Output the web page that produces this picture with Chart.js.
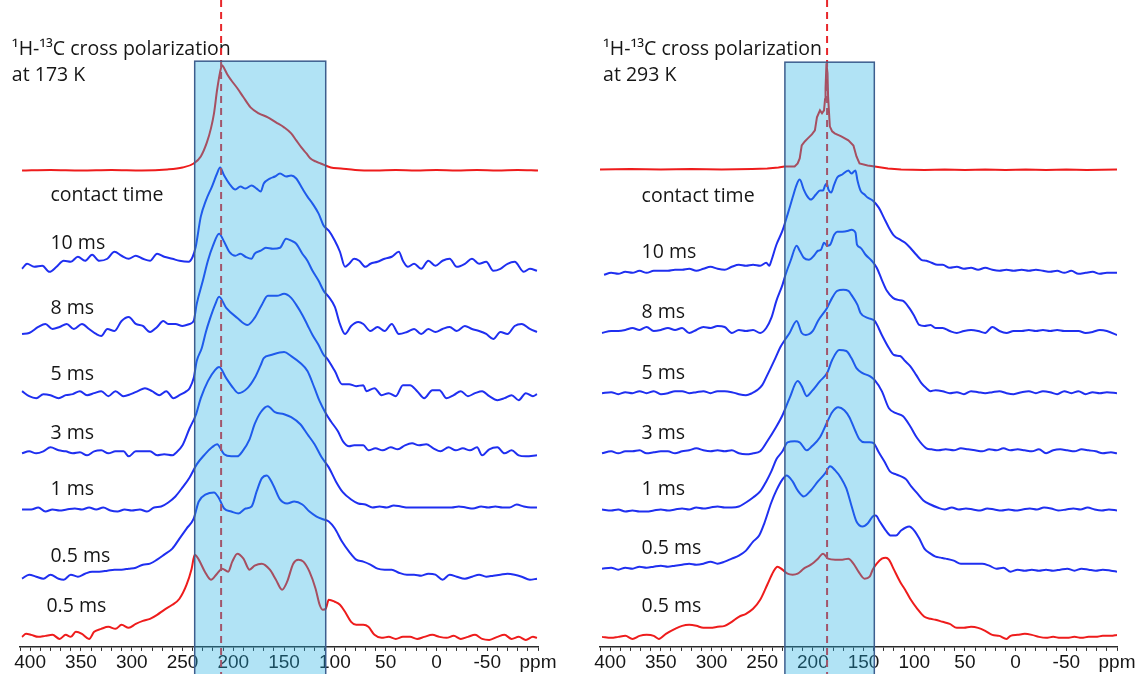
<!DOCTYPE html>
<html>
<head>
<meta charset="utf-8">
<script src="https://cdn.jsdelivr.net/npm/chart.js@4.4.1/dist/chart.umd.min.js"></script>
<style>
  html, body { margin: 0; padding: 0; background: #fff; }
  #wrap { position: relative; width: 1142px; height: 674px; }
  .panel { position: absolute; top: 0; width: 571px; height: 674px; }
  #left { left: 0; }
  #right { left: 571px; }
</style>
</head>
<body>
<div id="wrap">
  <div class="panel" id="left"><canvas id="chart173"></canvas></div>
  <div class="panel" id="right"><canvas id="chart293"></canvas></div>
</div>
<script>
// 13C CP spectra, [ppm, intensity] pairs, intensity above each trace's own baseline
var contactTimes = ['10 ms', '8 ms', '5 ms', '3 ms', '1 ms', '0.5 ms'];
var bottomLabel = '0.5 ms';

// ---- 173 K ----
var t173Top = [[408,0],[380,0.5],[350,0],[320,0.5],[290,0],[265,1],[250,3],[239,7],[232,14],[226,28],[222,42],[219,57],[216,80],[213,98],[211,105],[209,102],[206,96],[202,90],[196,82],[190,73],[183,63],[175,57],[166,53],[158,48],[150,43],[143,37],[138,30],[133,23],[128,17],[124,12],[119,9],[114,7],[104,3],[94,2],[80,0.5],[60,0],[40,0.5],[20,0],[0,0.5],[-20,0],[-40,0.5],[-60,0],[-80,0.5],[-100,0]];
var t173_10 = [[408,-5],[403,0],[396,-3],[388,-2],[381,-8],[374,-3],[367,3],[360,2],[353,7],[346,3],[339,9],[332,3],[324,5],[317,12],[310,8],[303,5],[296,8],[289,5],[282,3],[275,10],[268,7],[260,5],[253,3],[244,2],[240,7],[237,17],[232,47],[227,63],[221,77],[216,90],[213,96],[209,88],[204,80],[198,74],[193,77],[188,75],[182,78],[177,75],[173,72],[170,80],[164,85],[159,87],[154,90],[148,87],[143,88],[138,85],[132,75],[127,67],[122,60],[116,50],[111,38],[106,33],[100,23],[95,12],[90,-3],[86,0],[81,5],[76,3],[70,-3],[65,0],[58,2],[51,5],[44,7],[37,12],[33,3],[28,-3],[22,0],[15,-5],[8,3],[1,-2],[-6,3],[-13,5],[-20,-3],[-28,0],[-35,5],[-42,0],[-49,2],[-56,-7],[-63,-5],[-70,0],[-77,2],[-86,-8],[-92,-5],[-99,-7]];
var t173_8 = [[408,-5],[401,-4],[392,2],[385,5],[378,0],[371,2],[364,5],[357,0],[349,5],[342,0],[335,-5],[330,-7],[324,0],[317,-2],[310,8],[303,12],[296,5],[289,3],[282,-3],[275,2],[269,8],[264,5],[257,5],[250,3],[243,5],[239,8],[236,25],[230,48],[225,68],[220,83],[214,95],[209,87],[204,77],[198,73],[193,75],[188,72],[182,70],[179,75],[173,78],[168,81],[161,80],[154,81],[148,90],[143,88],[138,85],[132,75],[127,68],[122,58],[116,48],[111,38],[106,32],[100,22],[95,5],[90,-5],[84,3],[77,7],[72,5],[65,-2],[58,2],[51,-2],[44,5],[37,-5],[29,-3],[22,0],[15,-5],[8,0],[1,-3],[-6,0],[-13,2],[-20,-2],[-28,3],[-35,0],[-42,-2],[-49,-5],[-56,-10],[-63,-3],[-70,-5],[-77,3],[-84,5],[-92,0],[-99,-3]];
var t173_5 = [[408,3],[401,-2],[394,-4],[387,0],[380,-1],[372,-4],[365,-1],[358,0],[351,3],[344,-1],[337,1],[330,3],[323,-2],[316,3],[308,-2],[301,0],[294,3],[287,6],[280,3],[273,-1],[266,3],[259,-4],[253,-1],[246,3],[243,6],[239,16],[236,33],[231,46],[227,62],[223,75],[218,89],[214,97],[207,86],[196,76],[186,69],[179,76],[172,89],[166,98],[157,98],[150,100],[143,96],[138,89],[132,79],[127,69],[122,59],[116,49],[111,39],[108,36],[100,23],[93,10],[86,10],[79,8],[72,9],[69,3],[61,6],[54,-1],[47,1],[40,-2],[33,9],[26,9],[19,3],[12,-4],[4,4],[-3,4],[-10,-4],[-17,-1],[-24,3],[-31,-2],[-38,1],[-45,3],[-52,-2],[-60,-6],[-67,-4],[-74,-1],[-81,-6],[-88,1],[-95,-2],[-99,0]];
var t173_3 = [[408,0],[401,2],[394,0],[387,2],[380,6],[372,3],[365,2],[358,0],[351,1],[344,-2],[337,2],[330,3],[323,0],[316,2],[308,2],[303,-3],[296,2],[289,2],[282,2],[275,-2],[268,-1],[260,-2],[257,0],[250,8],[243,25],[237,38],[232,55],[225,72],[218,83],[214,86],[207,75],[200,65],[195,60],[186,65],[179,75],[173,88],[170,95],[163,98],[150,101],[143,97],[134,90],[127,82],[120,65],[115,52],[109,40],[104,32],[97,22],[92,12],[86,7],[81,8],[72,8],[67,3],[60,5],[53,3],[45,6],[38,4],[31,8],[24,10],[17,8],[10,9],[3,5],[-4,2],[-12,6],[-19,3],[-26,5],[-33,3],[-40,6],[-45,-2],[-52,4],[-60,6],[-67,0],[-74,3],[-81,-2],[-88,-3],[-99,-2]];
var t173_1 = [[408,0],[399,0],[392,2],[385,-2],[378,0],[371,-1],[364,0],[356,1],[349,0],[342,2],[335,0],[328,2],[321,-1],[314,-2],[307,0],[300,-1],[292,0],[285,-2],[278,2],[271,3],[264,7],[257,13],[250,22],[243,32],[236,45],[228,55],[221,62],[216,65],[209,55],[202,53],[196,53],[191,58],[184,70],[179,85],[173,97],[166,103],[159,97],[150,95],[143,92],[134,85],[127,75],[120,65],[113,52],[106,42],[99,28],[92,17],[84,10],[77,6],[70,5],[63,2],[56,3],[49,2],[42,4],[35,3],[28,2],[20,2],[13,2],[6,2],[-1,2],[-8,2],[-15,2],[-22,3],[-29,2],[-36,1],[-44,3],[-51,2],[-58,3],[-65,2],[-72,2],[-79,5],[-86,3],[-93,2],[-99,2]];
var t173_05 = [[408,-2],[401,2],[394,0],[387,-2],[380,2],[372,-2],[367,-3],[360,2],[353,0],[346,3],[339,5],[332,5],[324,6],[317,7],[310,7],[303,8],[296,9],[289,12],[282,13],[275,17],[268,22],[260,28],[253,38],[246,48],[239,58],[234,75],[227,82],[219,84],[214,78],[209,68],[202,65],[195,63],[188,68],[182,70],[177,85],[172,98],[167,101],[161,92],[154,77],[147,73],[140,75],[132,72],[125,65],[118,60],[111,57],[106,55],[100,48],[93,35],[86,25],[79,17],[72,15],[65,12],[58,8],[51,7],[44,7],[37,4],[29,2],[22,2],[15,1],[8,3],[1,2],[-6,-3],[-13,2],[-20,0],[-28,-2],[-35,0],[-42,2],[-49,0],[-56,1],[-63,2],[-70,3],[-77,2],[-84,0],[-92,-3],[-99,-2]];
var t173Bottom = [[408,0],[404,3],[399,2],[392,0],[385,1],[378,2],[371,-2],[365,2],[360,0],[355,5],[349,3],[342,-2],[337,5],[330,8],[323,10],[316,8],[310,12],[303,9],[296,13],[289,16],[282,18],[275,22],[268,27],[260,32],[253,38],[246,52],[241,68],[238,82],[234,77],[228,65],[222,57],[216,63],[211,68],[205,65],[201,75],[196,83],[190,78],[184,67],[179,71],[172,73],[164,67],[158,57],[152,47],[147,55],[141,73],[136,77],[131,75],[125,65],[119,48],[115,32],[112,27],[109,28],[106,37],[100,35],[95,32],[90,25],[84,15],[79,12],[72,12],[67,10],[61,2],[54,-1],[47,0],[40,-2],[33,0],[26,0],[19,-2],[12,0],[4,2],[-3,0],[-10,-1],[-17,1],[-24,-2],[-31,0],[-38,2],[-45,-2],[-52,-3],[-60,0],[-67,2],[-74,-2],[-81,0],[-88,-3],[-95,0],[-99,-1]];

// ---- 293 K ----
var t293Top = [[410,0],[380,0.5],[350,0],[320,0.5],[290,0],[260,0.5],[245,1],[234,2],[228,3],[218,3],[215,6],[213,11],[211,24],[208,28],[205,31],[201,35],[198,39],[196,52],[193,59],[191,56],[189,59],[188,70],[187.5,81],[186.6,106],[185.6,96],[185,73],[183.3,43],[181,38],[178.5,36],[172,33],[165,29],[160,24],[157,13],[154,6],[146,4],[139,3],[126,1],[113,0],[90,-0.5],[70,0],[50,-0.5],[30,0],[10,-0.5],[-10,0],[-30,-0.5],[-50,0],[-70,-0.5],[-100,0]];
var t293_10 = [[406,-2],[399,0],[392,-1],[385,1],[378,0],[371,2],[364,0],[357,2],[350,2],[343,2],[336,3],[329,3],[322,4],[315,2],[308,4],[301,6],[294,4],[287,3],[280,6],[273,8],[266,7],[259,8],[252,7],[246,10],[243,7],[241,12],[236,28],[230,42],[225,58],[220,75],[216,88],[213,93],[209,83],[206,77],[202,73],[197,78],[193,82],[190,82],[188,87],[186.4,89],[184.6,83],[182,80],[179,88],[176,95],[171,98],[165,102],[162,99],[158,102],[156,92],[153,82],[149,78],[146,75],[141,72],[135,65],[130,55],[125,45],[120,37],[114,33],[109,30],[104,25],[98,18],[93,13],[88,12],[83,10],[77,8],[72,8],[65,5],[58,6],[51,4],[44,5],[37,3],[30,5],[23,3],[16,2],[9,3],[2,2],[-6,3],[-13,2],[-20,3],[-27,2],[-34,1],[-41,2],[-48,0],[-55,2],[-62,-1],[-69,0],[-76,1],[-83,-1],[-90,0],[-100,0]];
var t293_8 = [[408,0],[399,2],[392,2],[385,3],[378,5],[371,3],[364,6],[357,2],[350,3],[343,5],[336,3],[329,5],[322,0],[315,3],[308,6],[301,5],[294,7],[287,6],[280,0],[273,3],[266,2],[259,3],[252,0],[246,5],[241,15],[236,32],[230,48],[227,58],[222,72],[216,87],[213,82],[209,75],[204,73],[199,77],[195,82],[192,83],[189,90],[186,87],[183,88],[179,98],[176,101],[171,101],[165,102],[162,103],[158,100],[156.5,88],[153,85],[148,78],[142,72],[137,65],[132,53],[127,42],[121,35],[116,33],[111,32],[105,25],[100,17],[95,8],[90,7],[84,8],[79,5],[72,5],[65,2],[58,0],[51,2],[44,3],[37,2],[30,0],[23,6],[16,2],[9,0],[2,2],[-6,2],[-13,3],[-20,2],[-27,3],[-34,2],[-41,3],[-48,2],[-55,2],[-62,2],[-69,0],[-76,1],[-83,3],[-90,2],[-100,-2]];
var t293_5 = [[408,0],[399,1],[392,-1],[385,1],[378,0],[371,2],[364,0],[357,2],[350,-1],[343,0],[336,2],[329,2],[322,0],[315,1],[308,2],[301,0],[294,2],[287,2],[280,1],[273,-1],[266,-2],[260,0],[255,3],[250,8],[245,18],[237,35],[232,46],[227,54],[223,60],[216,72],[211,60],[207,58],[200,62],[195,72],[186,85],[181,95],[176,102],[170,103],[165,102],[162,98],[156,88],[153,80],[146,75],[139,72],[132,58],[125,45],[120,38],[114,37],[109,32],[104,27],[98,18],[93,10],[88,5],[84,2],[79,3],[72,2],[65,0],[58,1],[51,-1],[44,2],[37,1],[30,0],[23,1],[16,2],[9,0],[2,-1],[-6,1],[-13,2],[-20,0],[-27,2],[-34,1],[-41,-1],[-48,2],[-55,0],[-62,2],[-69,-1],[-76,1],[-83,0],[-90,1],[-100,0]];
var t293_3 = [[408,0],[399,2],[392,0],[385,2],[378,2],[371,3],[364,0],[357,1],[350,2],[343,2],[336,0],[329,2],[322,3],[315,5],[308,3],[301,2],[294,3],[287,2],[280,3],[273,0],[266,-1],[259,0],[252,2],[245,12],[237,25],[230,38],[223,55],[215,72],[211,67],[206,57],[201,62],[193,72],[186,80],[181,93],[174,103],[167,102],[162,95],[157,85],[151,80],[144,77],[139,73],[132,62],[125,45],[118,40],[111,37],[104,27],[97,15],[88,5],[83,4],[76,3],[69,4],[61,3],[54,5],[47,4],[40,3],[33,2],[26,4],[19,3],[12,5],[5,3],[-2,4],[-9,3],[-16,2],[-23,4],[-30,0],[-37,3],[-44,4],[-51,3],[-58,2],[-65,4],[-72,3],[-79,2],[-86,0],[-94,1],[-100,0]];
var t293_1 = [[408,0],[399,-1],[392,0],[385,-2],[378,-1],[371,-2],[364,-2],[357,-1],[350,0],[343,-1],[336,0],[329,1],[322,0],[315,2],[308,1],[301,2],[294,3],[287,2],[280,2],[273,3],[266,7],[259,12],[252,18],[246,28],[241,38],[236,50],[230,58],[225,67],[218,68],[213,67],[206,59],[201,63],[193,72],[186,87],[181,97],[175,102],[169,99],[164,92],[158,78],[154,70],[149,67],[144,67],[140,66],[135,57],[129,47],[124,38],[118,35],[113,33],[108,30],[103,23],[97,16],[91,9],[84,5],[77,2],[70,0],[63,2],[56,0],[49,1],[42,0],[35,-1],[28,1],[21,0],[14,-1],[7,0],[0,-1],[-7,0],[-14,1],[-21,0],[-28,2],[-35,1],[-42,-1],[-50,0],[-57,1],[-64,0],[-71,2],[-78,0],[-85,-1],[-92,0],[-100,-1]];
var t293_05 = [[408,0],[399,1],[392,-1],[385,1],[378,0],[371,2],[364,1],[357,2],[350,3],[343,2],[336,3],[329,4],[322,5],[315,4],[308,5],[301,7],[294,5],[287,7],[280,10],[273,13],[266,18],[259,27],[253,33],[248,45],[241,66],[236,78],[230,89],[226,93],[220,87],[215,78],[209,72],[202,78],[195,87],[188,95],[183,102],[178,98],[172,90],[167,80],[162,63],[157,47],[151,42],[146,45],[141,52],[138,53],[134,47],[128,38],[123,33],[118,33],[113,38],[105,42],[100,38],[95,30],[90,20],[84,15],[79,12],[74,11],[69,10],[61,8],[54,5],[47,5],[40,5],[33,5],[26,3],[19,0],[12,1],[5,-3],[-2,-1],[-9,-2],[-16,-1],[-23,-2],[-30,-1],[-37,-2],[-44,-1],[-51,0],[-58,-2],[-65,0],[-72,-1],[-79,-2],[-86,-1],[-94,-2],[-100,-3]];
var t293Bottom = [[408,0],[399,-1],[392,0],[385,1],[378,-2],[371,1],[364,2],[357,1],[352,-2],[345,3],[336,8],[329,11],[322,12],[315,11],[308,9],[301,9],[294,10],[287,11],[280,15],[273,20],[266,23],[259,28],[252,37],[245,52],[239,65],[235,70],[230,67],[225,63],[220,62],[215,63],[209,68],[202,72],[195,78],[190,83],[185,78],[178,77],[171,77],[165,78],[160,73],[155,65],[149,58],[144,60],[141,67],[137,73],[132,78],[128,79],[125,77],[120,67],[114,55],[109,47],[104,38],[97,28],[90,20],[84,18],[79,17],[72,15],[65,13],[58,9],[51,9],[44,10],[37,9],[30,6],[23,2],[16,1],[9,-2],[5,1],[-2,2],[-9,3],[-16,2],[-23,0],[-30,-1],[-37,0],[-44,-1],[-51,-1],[-58,0],[-65,-1],[-72,0],[-79,0],[-86,1],[-94,1],[-100,2]];

// vertical stacking of the traces (top reference, contact times, bottom reference)
var offsets173 = [475, 382, 317, 252, 193, 137, 70, 10];
var offsets293 = [476, 373, 313, 253, 193, 137, 78, 10];

var RED = '#ee1c1c';
var BLUE = '#1f2ff0';
var TEXT_FONT = '19.5px "Open Sans"';

function toPoints(pairs, offset) {
  return pairs.map(function (p) { return { x: p[0], y: p[1] + offset }; });
}

function trace(pairs, offset, color, tension) {
  return {
    data: toPoints(pairs, offset),
    borderColor: color,
    borderWidth: 2,
    pointRadius: 0,
    fill: false,
    tension: tension,
    cubicInterpolationMode: tension ? 'monotone' : 'default'
  };
}

// highlighted window, dashed marker line and the text labels
var bandPlugin = {
  id: 'band',
  afterDraw: function (chart, args, o) {
    var ctx = chart.ctx, x = chart.scales.x, y = chart.scales.y;
    ctx.save();

    ctx.font = TEXT_FONT;
    ctx.fillStyle = '#161616';
    ctx.textAlign = 'left';
    ctx.textBaseline = 'middle';
    ctx.fillText(o.title[0], x.getPixelForValue(o.titleX), y.getPixelForValue(596));
    ctx.fillText(o.title[1], x.getPixelForValue(o.titleX), y.getPixelForValue(570));
    ctx.fillText('contact time', x.getPixelForValue(o.labelX), y.getPixelForValue(o.headerY));
    contactTimes.forEach(function (t, i) {
      ctx.fillText(t, x.getPixelForValue(o.labelX), y.getPixelForValue(o.offsets[i + 1] + 20));
    });
    ctx.fillText(bottomLabel, x.getPixelForValue(o.bottomLabelX), y.getPixelForValue(o.offsets[7] + 30));

    var mx = x.getPixelForValue(o.mark);
    ctx.strokeStyle = '#e8262b';
    ctx.lineWidth = 2;
    ctx.setLineDash([7, 5]);
    ctx.beginPath();
    ctx.moveTo(mx, 0);
    ctx.lineTo(mx, chart.height);
    ctx.stroke();
    ctx.setLineDash([]);

    var x0 = x.getPixelForValue(o.from), x1 = x.getPixelForValue(o.to);
    var top = y.getPixelForValue(o.top);
    ctx.fillStyle = 'rgba(32,175,227,0.35)';
    ctx.fillRect(x0, top, x1 - x0, chart.height - top + 2);
    ctx.strokeStyle = '#3d5e8e';
    ctx.lineWidth = 1.5;
    ctx.strokeRect(x0, top, x1 - x0, chart.height - top + 4);
    ctx.restore();
  }
};

function makeChart(id, traces, offsets, band, pad) {
  var sets = [trace(traces[0], offsets[0], RED, traces.sharpTop ? 0 : 0.3)];
  for (var i = 1; i < 7; i++) sets.push(trace(traces[i], offsets[i], BLUE, 0.3));
  sets.push(trace(traces[7], offsets[7], RED, 0.3));

  return new Chart(document.getElementById(id), {
    type: 'line',
    data: { datasets: sets },
    options: {
      responsive: true,
      maintainAspectRatio: false,
      animation: false,
      layout: { padding: pad },
      plugins: { legend: { display: false }, tooltip: { enabled: false }, band: band },
      scales: {
        x: {
          type: 'linear',
          reverse: true,
          min: -100,
          max: 410,
          border: { display: true, color: '#2b2b2b', width: 1.5 },
          grid: { drawOnChartArea: false, drawTicks: true, tickLength: 4, color: '#2b2b2b' },
          ticks: {
            stepSize: 10,
            autoSkip: false,
            maxRotation: 0,
            minRotation: 0,
            padding: 3,
            color: '#161616',
            font: { family: '"Liberation Sans", Arial, sans-serif', size: 19, lineHeight: 0.9 },
            callback: function (v) {
              if (v === -100) return 'ppm';
              return v % 50 === 0 ? String(v) : '';
            }
          }
        },
        y: { display: false, min: 0, max: 645 }
      }
    },
    plugins: [bandPlugin]
  });
}

var traces173 = [t173Top, t173_10, t173_8, t173_5, t173_3, t173_1, t173_05, t173Bottom];
var traces293 = [t293Top, t293_10, t293_8, t293_5, t293_3, t293_1, t293_05, t293Bottom];
traces293.sharpTop = true;

makeChart('chart173', traces173, offsets173, {
  from: 238, to: 109, top: 584, mark: 212,
  title: ['\u00b9H-\u00b9\u00b3C cross polarization', 'at 173 K'],
  titleX: 418, labelX: 380, bottomLabelX: 384, headerY: 450, offsets: offsets173
}, { left: 20, right: 33, top: 0, bottom: 0 });

makeChart('chart293', traces293, offsets293, {
  from: 227.6, to: 139.4, top: 583, mark: 186,
  title: ['\u00b9H-\u00b9\u00b3C cross polarization', 'at 293 K'],
  titleX: 407, labelX: 369, bottomLabelX: 369, headerY: 449, offsets: offsets293
}, { left: 29, right: 25, top: 0, bottom: 0 });
</script>
</body>
</html>
